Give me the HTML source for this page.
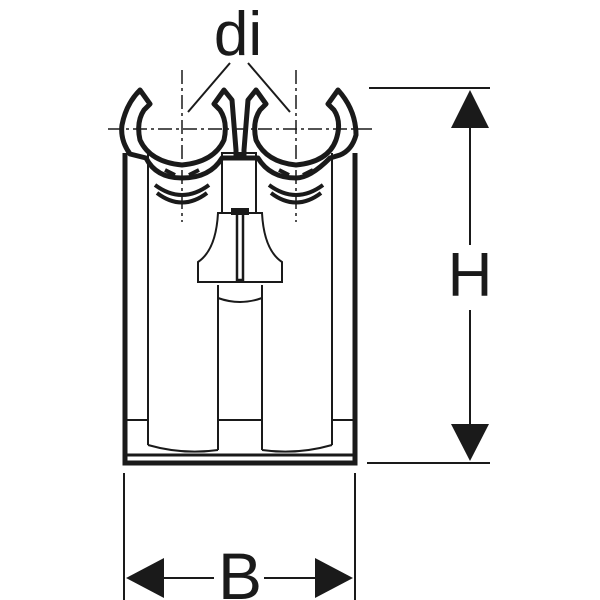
<!DOCTYPE html>
<html><head><style>html,body{margin:0;padding:0;background:#fff}svg{display:block}</style></head>
<body>
<svg width="600" height="600" viewBox="0 0 600 600" xmlns="http://www.w3.org/2000/svg">
<rect width="600" height="600" fill="#fff"/>
<g fill="none" stroke="#1a1a1a">
<!-- center lines -->
<g stroke-width="1.5" stroke-dasharray="14,4,3,4">
<line x1="108" y1="129" x2="372" y2="129"/>
<line x1="182" y1="70" x2="182" y2="222"/>
<line x1="296" y1="70" x2="296" y2="222"/>
</g>
<line x1="188" y1="112" x2="230" y2="63" stroke-width="2"/>
<line x1="248" y1="63" x2="290" y2="112" stroke-width="2"/>
<!-- body -->
<path d="M125 153 L125 463 L355 463 L355 153" stroke-width="5"/>
<g stroke-width="2">
<line x1="148" y1="153" x2="148" y2="445"/>
<line x1="332" y1="153" x2="332" y2="445"/>
<line x1="125" y1="420" x2="148" y2="420"/>
<line x1="332" y1="420" x2="355" y2="420"/>
<line x1="218" y1="285" x2="218" y2="450"/>
<line x1="262" y1="285" x2="262" y2="450"/>
<line x1="218" y1="420" x2="262" y2="420"/>
<path d="M148 445 Q183 455 218 450"/>
<path d="M262 450 Q297 455 332 445"/>
<path d="M218 298 Q240 306 262 298"/>
<line x1="125" y1="455" x2="355" y2="455" stroke-width="3"/>
<!-- center column -->
<rect x="222" y="153" width="34" height="60"/>
<path d="M218 213 L262 213 Q264 250 282 262 L282 282 L198 282 L198 262 Q216 250 218 213 Z"/>
<rect x="237" y="212" width="6" height="68" stroke-width="2.5"/>
<rect x="232" y="209" width="16" height="5" fill="#1a1a1a"/>
</g>
<!-- clips -->
<g stroke-width="5" stroke-linejoin="round">
<path d="M140 90 L150 104 L144 110 Q136 122 140 140 Q150 162 182 165 Q214 162 224 140 Q228 122 220 110 L214 104 L224 90 L232 100 L236 150 L236 156 L244 156 L244 150 L248 100 L256 90 L266 104 L260 110 Q252 122 256 140 Q266 162 296 165 Q328 162 336 140 Q342 122 334 110 L328 104 L338 90 Q356 110 356 135 Q352 150 340 155 L330 158 Q310 178 296 178 Q270 178 258 158 L228 158 L222 158 Q210 178 182 178 Q156 178 146 158 L130 154 Q120 140 122 125 Q126 104 140 90 Z"/>
</g>
<g stroke-width="4">
<path d="M155 185 Q182 205 209 185"/>
<path d="M157 193 Q182 212 207 193"/>
<path d="M269 185 Q296 205 323 185"/>
<path d="M271 193 Q296 212 321 193"/>
<path d="M165 170 L175 175 M199 170 L189 175 M279 170 L289 175 M313 170 L303 175"/>
</g>
<!-- dimension H -->
<g stroke-width="2">
<line x1="369" y1="88" x2="490" y2="88"/>
<line x1="367" y1="463" x2="490" y2="463"/>
<line x1="470" y1="125" x2="470" y2="245"/>
<line x1="470" y1="310" x2="470" y2="430"/>
<line x1="124" y1="473" x2="124" y2="600"/>
<line x1="355" y1="473" x2="355" y2="600"/>
<line x1="160" y1="578" x2="214" y2="578"/>
<line x1="264" y1="578" x2="320" y2="578"/>
</g>
</g>
<g fill="#1a1a1a">
<polygon points="470,90 451,128 489,128"/>
<polygon points="470,461 451,424 489,424"/>
<polygon points="126,578 164,558 164,598"/>
<polygon points="353,578 315,558 315,598"/>
</g>
<g font-family="Liberation Sans, sans-serif" fill="#1a1a1a">
<text x="238" y="55" font-size="62" text-anchor="middle">di</text>
<text x="470" y="296" font-size="62" text-anchor="middle">H</text>
<text x="240" y="599" font-size="66" text-anchor="middle">B</text>
</g>
</svg>
</body></html>
